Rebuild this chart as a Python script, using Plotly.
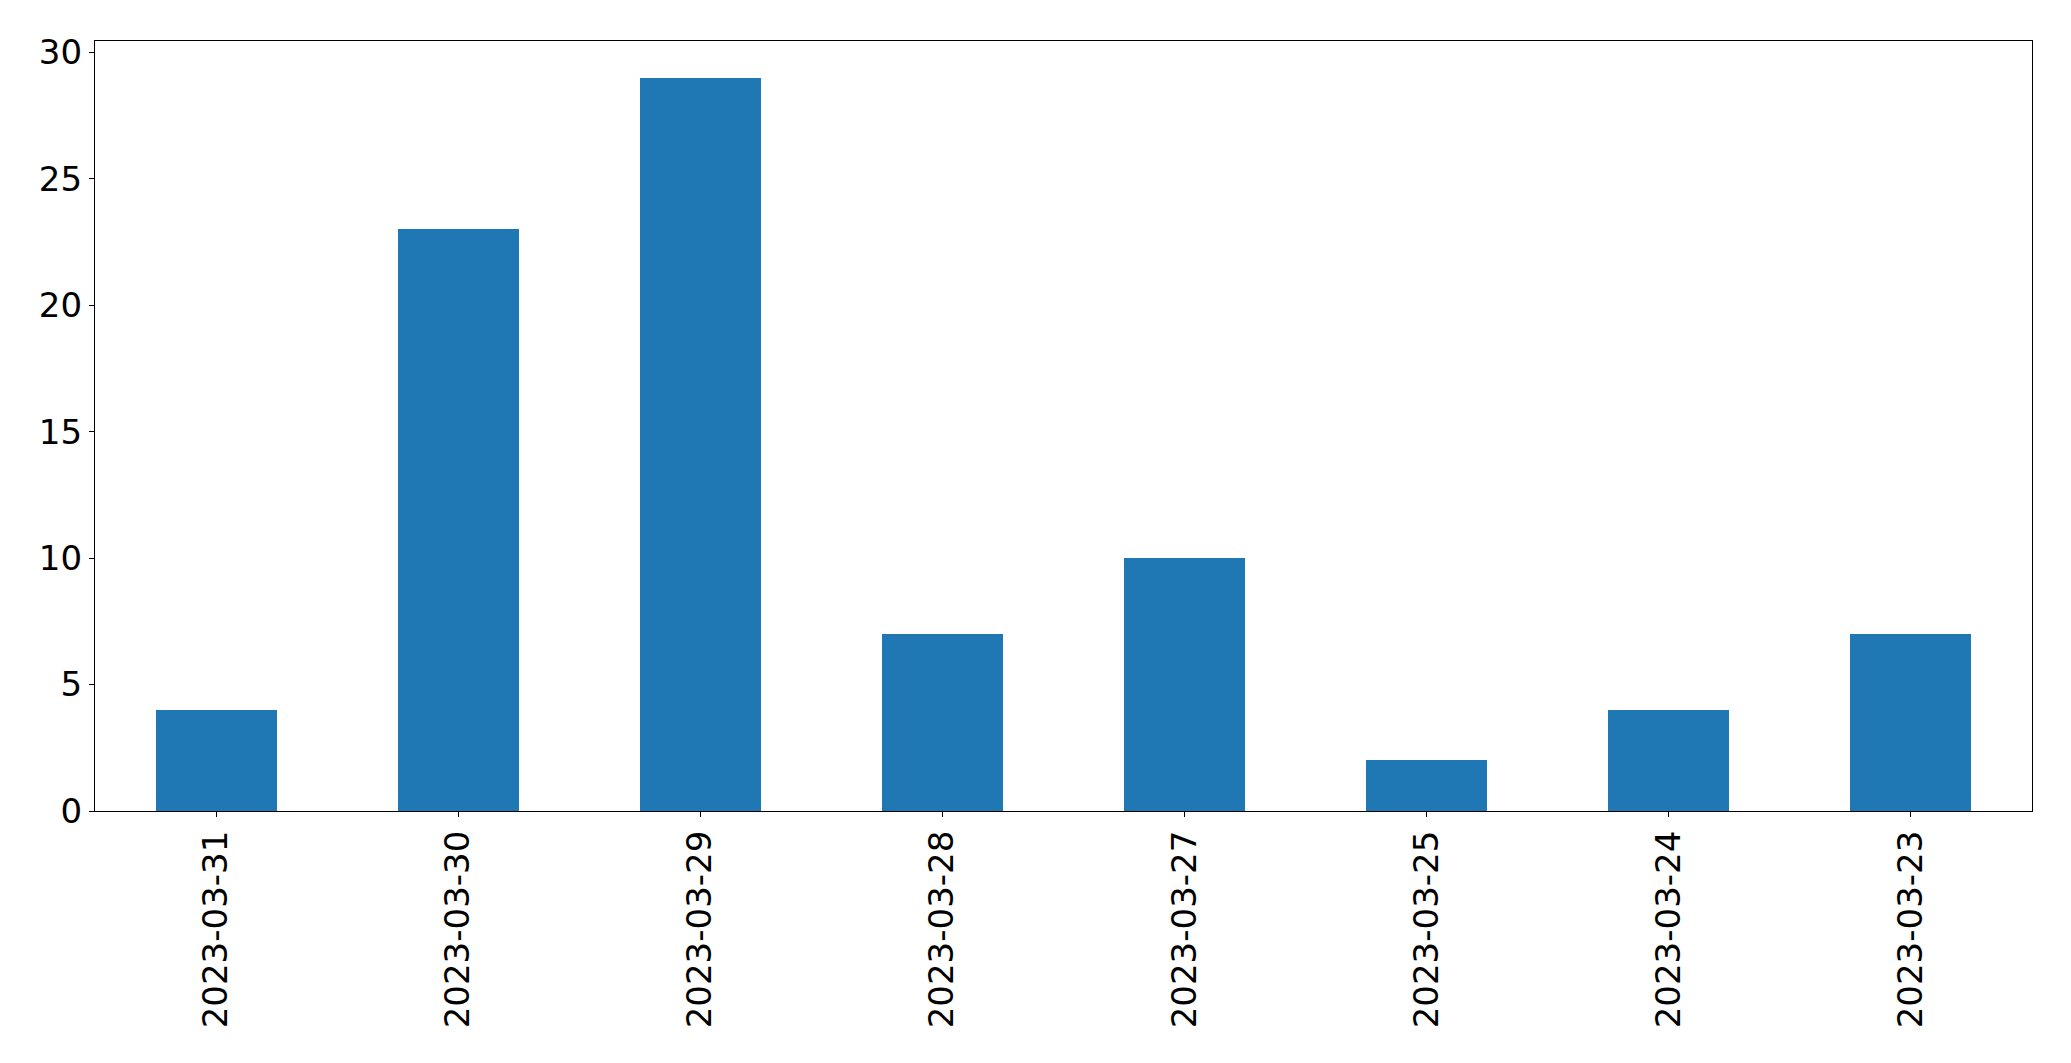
import plotly.graph_objects as go

dates = ["2023-03-31", "2023-03-30", "2023-03-29", "2023-03-28",
         "2023-03-27", "2023-03-25", "2023-03-24", "2023-03-23"]
counts = [4, 23, 29, 7, 10, 2, 4, 7]
y_ticks = [0, 5, 10, 15, 20, 25, 30]

fig = go.Figure(go.Bar(
    x=dates, y=counts, width=0.5,
    marker=dict(color="#1f77b4", line=dict(width=0)),
))

font = dict(family="DejaVu Sans", size=34, color="black")

fig.update_layout(
    width=2063, height=1055,
    margin=dict(l=87, r=39, t=33, b=252, pad=0),
    paper_bgcolor="white", plot_bgcolor="white",
    showlegend=False,
    font=font,
    bargap=0,
)
fig.update_xaxes(
    type="category", range=[-0.5, 7.5],
    showline=True, linecolor="black", linewidth=1.2, mirror=True,
    ticks="outside", ticklen=5, tickwidth=1.2, tickcolor="black",
    tickangle=-90, showgrid=False, zeroline=False,
    tickfont=font,
)
fig.update_yaxes(
    range=[0, 30.45], tickvals=y_ticks,
    showline=True, linecolor="black", linewidth=1.2, mirror=True,
    ticks="outside", ticklen=5, tickwidth=1.2, tickcolor="black",
    showgrid=False, zeroline=False,
    tickfont=font,
)

fig.write_html("out.html")
